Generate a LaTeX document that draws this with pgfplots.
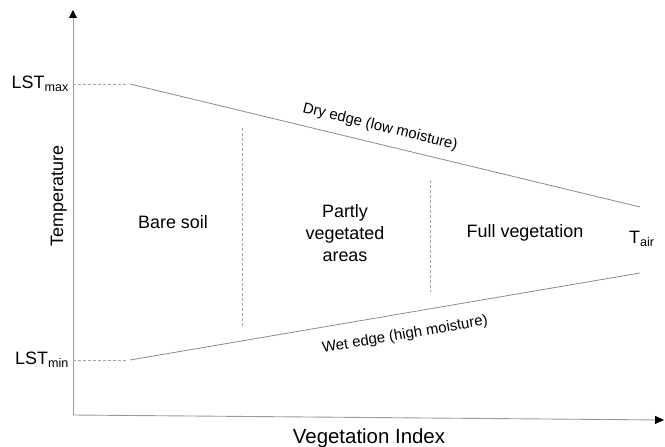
\documentclass[border=0pt]{standalone}
\usepackage{fontspec}
\setmainfont{Liberation Sans}
\usepackage{pgfplots}
\pgfplotsset{compat=1.18}
\usetikzlibrary{arrows.meta}
\definecolor{lngray}{HTML}{8A8A8A}
\definecolor{axgray}{HTML}{9A9A9A}
\definecolor{dsgray}{HTML}{A5A5A5}
\begin{document}
\begin{tikzpicture}[font=\fontsize{18}{21}\selectfont]
\begin{axis}[hide axis, scale only axis, width=665bp, height=447bp,
  xmin=0, xmax=665, ymin=0, ymax=447, y dir=reverse, clip=false]
% axes
\addplot[axgray, line width=0.9pt, -{Triangle[length=8bp,width=8bp,color=black]}] coordinates {(73,415) (73,10)};
\addplot[axgray, line width=0.9pt, -{Triangle[length=9bp,width=8bp,color=black]}] coordinates {(73,415) (664,420)};
% guide dashes
\addplot[dsgray, line width=0.6pt, dash pattern=on 3bp off 2bp] coordinates {(73,84) (127,84)};
\addplot[dsgray, line width=0.6pt, dash pattern=on 3bp off 2bp] coordinates {(73,360) (127,360)};
\addplot[dsgray, line width=0.6pt, dash pattern=on 3bp off 2bp] coordinates {(242,128) (242,326)};
\addplot[dsgray, line width=0.6pt, dash pattern=on 3bp off 2bp] coordinates {(430,180) (430,292)};
% edges
\addplot[lngray, line width=0.8pt] coordinates {(130,84) (640,207)};
\addplot[lngray, line width=0.8pt] coordinates {(130,360) (640,273)};
% labels
\node[anchor=base east, inner sep=0pt] at (axis cs:69,89) {LST\textsubscript{max}};
\node[anchor=base east, inner sep=0pt] at (axis cs:69,364) {LST\textsubscript{min}};
\node[anchor=base west, inner sep=0pt] at (axis cs:629,243) {T\textsubscript{air}};
\node[anchor=base, inner sep=0pt] at (axis cs:173,228) {Bare soil};
\node[align=center, inner sep=0pt, anchor=base, font=\fontsize{18}{22}\selectfont] at (axis cs:345,261) {Partly\\vegetated\\areas};
\node[anchor=base, inner sep=0pt] at (axis cs:525,237) {Full vegetation};
\node[rotate=-13.6, inner sep=0pt, font=\fontsize{15}{18}\selectfont] at (axis cs:380,127) {Dry edge (low moisture)};
\node[rotate=9.7, inner sep=0pt, font=\fontsize{15}{18}\selectfont] at (axis cs:405,335) {Wet edge (high moisture)};
\node[rotate=90, anchor=base, inner sep=0pt] at (axis cs:63,196) {Temperature};
\node[anchor=base, inner sep=0pt, font=\fontsize{20.5}{24}\selectfont] at (axis cs:369,443) {Vegetation Index};
\coordinate (sw) at (axis cs:0,447);
\coordinate (ne) at (axis cs:665,0);
\end{axis}
\pgfresetboundingbox
\useasboundingbox (sw) rectangle (ne);
\end{tikzpicture}
\end{document}
